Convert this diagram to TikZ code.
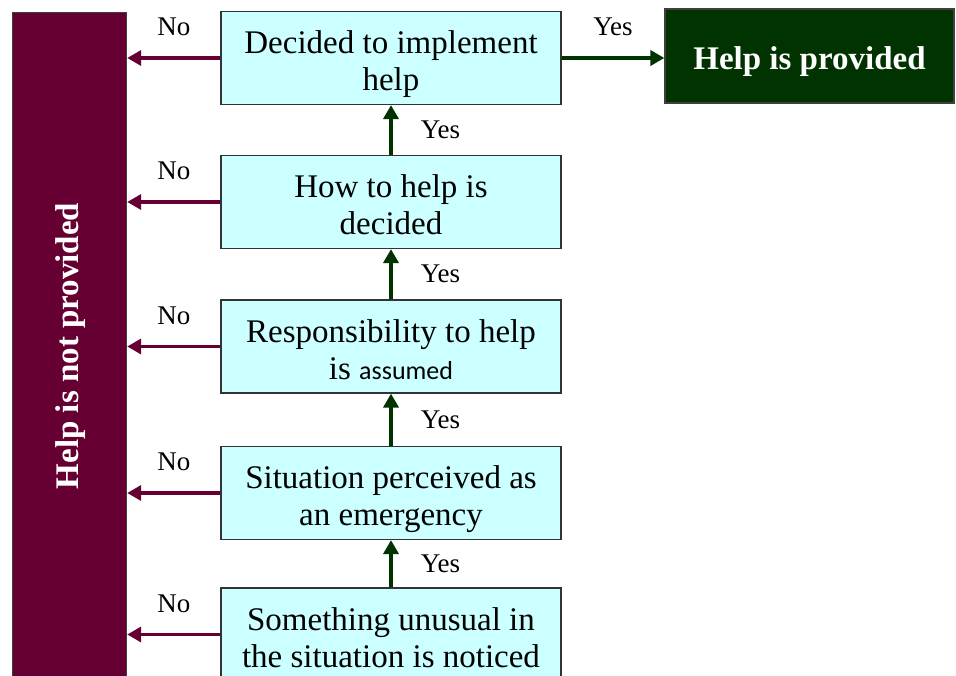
\documentclass[tikz,border=0pt]{standalone}
\usepackage{fontspec}
\setmainfont{Liberation Serif}
\newfontfamily\calfont{Carlito}
\usetikzlibrary{arrows.meta}
\definecolor{noclr}{HTML}{660033}
\definecolor{yesclr}{HTML}{003300}
\definecolor{stageclr}{HTML}{CCFFFF}

\begin{document}
\begin{tikzpicture}[x=1pt,y=-1pt,
stage/.style={draw=black!80,line width=1.2pt,fill=stageclr,minimum width=340pt,minimum height=93pt,inner sep=0pt,align=center,text height=68pt,text depth=3pt,font=\fontsize{33}{37}\selectfont},
outcome/.style={draw=black!75,line width=1.2pt,inner sep=0pt,text=white,font=\fontsize{33}{37}\selectfont\bfseries},
noarrow/.style={draw=noclr,line width=3.5pt,-{Triangle[length=14pt,width=15pt]}},
yesarrow/.style={draw=yesclr,line width=3.5pt,-{Triangle[length=14pt,width=15pt]}},
answer/.style={inner sep=0pt,font=\fontsize{27}{30}\selectfont}]
\useasboundingbox (0,0) rectangle (956,676);
\clip (0,0) rectangle (956,676);
% outcomes
\node[outcome,fill=noclr,minimum width=114pt,minimum height=690pt,anchor=north west] (notprovided) at (12,12) {};
\node[text=white,rotate=90,font=\fontsize{33}{37}\selectfont\bfseries] (notlabel) at (71,346) {Help is not provided};
\node[outcome,fill=yesclr,minimum width=289pt,minimum height=94pt,text height=28pt,text depth=0pt] (provided) at (809.5,56) {Help is provided};
% stages
\node[stage] (decide) at (391,58) {Decided to implement\\help};
\node[stage] (how) at (391,202) {How to help is\\decided};
\node[stage] (resp) at (391,346.5) {Responsibility to help\\is {\calfont\fontsize{26}{37}\selectfont assumed}};
\node[stage] (emerg) at (391,493) {Situation perceived as\\an emergency};
\node[stage] (notice) at (391,634.5) {Something unusual in\\the situation is noticed};
% yes
\draw[yesarrow] (decide.east) -- (decide.east -| provided.west) node[midway,above=20pt,answer] {Yes};
\draw[yesarrow] (how) -- (decide) node[midway,right=28pt,answer] {Yes};
\draw[yesarrow] (resp) -- (how) node[midway,right=28pt,answer] {Yes};
\draw[yesarrow] (emerg) -- (resp) node[midway,right=28pt,answer] {Yes};
\draw[yesarrow] (notice) -- (emerg) node[midway,right=28pt,answer] {Yes};
% no
\foreach \s in {decide,how,resp,emerg,notice}
  \draw[noarrow] (\s.west) -- (\s.west -| notprovided.east) node[midway,above=20pt,answer] {No};
\end{tikzpicture}
\end{document}
